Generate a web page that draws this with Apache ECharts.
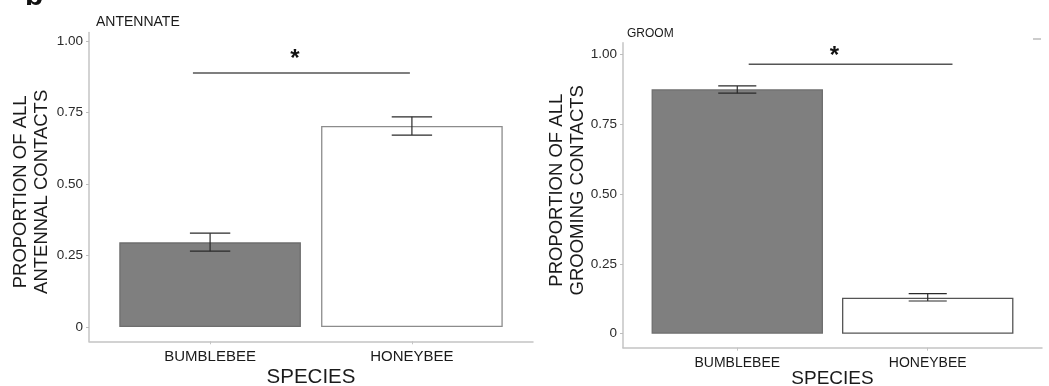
<!DOCTYPE html>
<html>
<head>
<meta charset="utf-8">
<script src="https://cdn.jsdelivr.net/npm/echarts@6/dist/echarts.min.js"></script>
<style>html,body{margin:0;padding:0;background:#fff}#c{width:1049px;height:386px}</style>
</head>
<body>
<div id="c"></div>
<script>
// ---- data ----
const categories = ['BUMBLEBEE', 'HONEYBEE'];
const categoryPos = [1, 2];
const antennateMean  = [0.296, 0.703];
const antennateLower = [0.265, 0.671];
const antennateUpper = [0.328, 0.735];
const groomMean  = [0.874, 0.129];
const groomLower = [0.860, 0.117];
const groomUpper = [0.886, 0.143];
const yTicks = [0, 0.25, 0.5, 0.75, 1.0];
const yTickLabels = ['0', '0.25', '0.50', '0.75', '1.00'];
// significance annotations: [xStart, xEnd, y], star [x, y]
const antennateSigLine = [0.915, 1.99, 0.888];
const antennateSigStar = [1.42, 0.951];
const groomSigLine = [1.06, 2.13, 0.963];
const groomSigStar = [1.51, 1.007];

const FONT = "'Liberation Sans', Arial, Helvetica, sans-serif";
const barFills = ['#7f7f7f', '#ffffff'];
const barBordersL = ['#6e6e6e', '#8c8c8c'];
const barBordersR = ['#6e6e6e', '#555555'];

const chart = echarts.init(document.getElementById('c'), null, {renderer: 'canvas'});

function barData(means, borders) {
  return means.map((v, i) => ({
    value: [categoryPos[i], v],
    itemStyle: {color: barFills[i], borderColor: borders[i], borderWidth: 1.3}
  }));
}
function errData(lo, hi) {
  return lo.map((l, i) => [categoryPos[i], l, hi[i]]);
}
function errRender(params, api) {
  const x = api.value(0), lo = api.value(1), hi = api.value(2);
  const w = 0.1;
  const top = api.coord([x, hi]), bot = api.coord([x, lo]);
  const tl = api.coord([x - w, hi]), tr = api.coord([x + w, hi]);
  const bl = api.coord([x - w, lo]), br = api.coord([x + w, lo]);
  const st = {stroke: '#2a2a2a', lineWidth: 1.2};
  return {type: 'group', children: [
    {type: 'line', shape: {x1: top[0], y1: top[1], x2: bot[0], y2: bot[1]}, style: st},
    {type: 'line', shape: {x1: tl[0], y1: tl[1], x2: tr[0], y2: tr[1]}, style: st},
    {type: 'line', shape: {x1: bl[0], y1: bl[1], x2: br[0], y2: br[1]}, style: st}
  ]};
}
function sigRender(params, api) {
  const x1 = api.value(0), x2 = api.value(1), y = api.value(2);
  const sx = api.value(3), sy = api.value(4);
  const a = api.coord([x1, y]), b = api.coord([x2, y]);
  const s = api.coord([sx, sy]);
  return {type: 'group', children: [
    {type: 'line', shape: {x1: a[0], y1: a[1], x2: b[0], y2: b[1]}, style: {stroke: '#555', lineWidth: 1.5}},
    {type: 'text', x: s[0], y: s[1] + 4.5, style: {text: '*', font: 'bold 24px ' + FONT, fill: '#111', align: 'center', verticalAlign: 'middle'}}
  ]};
}

function xAxisCfg(gridIndex, labelSize, nameSize, nameGap) {
  return {
    type: 'value', gridIndex, min: 0.4, max: 2.6,
    name: 'SPECIES', nameLocation: 'middle', nameGap, nameMoveOverlap: false,
    nameTextStyle: {fontFamily: FONT, fontSize: nameSize, color: '#1a1a1a'},
    axisLine: {show: true, onZero: false, lineStyle: {color: '#c4c4c4', width: 1.5}},
    axisTick: {show: true, length: 3, customValues: categoryPos, lineStyle: {color: '#c4c4c4'}},
    axisLabel: {customValues: categoryPos, margin: 8, fontFamily: FONT, fontSize: labelSize, color: '#1a1a1a',
      formatter: v => categories[categoryPos.indexOf(Math.round(v))] || ''},
    splitLine: {show: false}
  };
}
function yAxisCfg(gridIndex, max, name, nameSize, nameGap, namePadding) {
  return {
    type: 'value', gridIndex, min: -0.05, max,
    name, nameLocation: 'middle', nameRotate: 90, nameGap, nameMoveOverlap: false,
    nameTextStyle: {fontFamily: FONT, fontSize: nameSize, color: '#1a1a1a', lineHeight: 21, padding: namePadding},
    axisLine: {show: true, onZero: false, lineStyle: {color: '#c4c4c4', width: 1.5}},
    axisTick: {show: true, length: 3, customValues: yTicks, lineStyle: {color: '#bdbdbd'}},
    axisLabel: {customValues: yTicks, margin: 6, fontFamily: FONT, fontSize: 13.5, color: '#2a2a2a',
      formatter: v => { const i = yTicks.findIndex(t => Math.abs(t - v) < 1e-6); return i >= 0 ? yTickLabels[i] : ''; }},
    splitLine: {show: false}
  };
}

chart.setOption({
  animation: false,
  backgroundColor: '#ffffff',
  title: [
    {text: 'ANTENNATE', left: 91, top: 10, textStyle: {fontFamily: FONT, fontSize: 14, fontWeight: 'normal', color: '#1a1a1a'}},
    {text: 'GROOM', left: 622, top: 23, textStyle: {fontFamily: FONT, fontSize: 12, fontWeight: 'normal', color: '#1a1a1a'}}
  ],
  grid: [
    {left: 89, right: 516, top: 32.4, bottom: 44.7, outerBoundsMode: 'none', containLabel: false},
    {left: 623, right: 7, top: 42.8, bottom: 38.3, outerBoundsMode: 'none', containLabel: false}
  ],
  xAxis: [xAxisCfg(0, 15, 20.5, 26), xAxisCfg(1, 14, 19, 21.5)],
  yAxis: [
    yAxisCfg(0, 1.03, 'PROPORTION OF ALL\nANTENNAL CONTACTS', 18.5, 37, [0, 10, 0, 0]),
    yAxisCfg(1, 1.04, 'PROPORTION OF ALL\nGROOMING CONTACTS', 18.5, 35, [0, 0, 0, 10])
  ],
  series: [
    {type: 'bar', xAxisIndex: 0, yAxisIndex: 0, barWidth: '90%', data: barData(antennateMean, barBordersL)},
    {type: 'bar', xAxisIndex: 1, yAxisIndex: 1, barWidth: '90%', data: barData(groomMean, barBordersR)},
    {type: 'custom', xAxisIndex: 0, yAxisIndex: 0, renderItem: errRender, data: errData(antennateLower, antennateUpper), z: 5},
    {type: 'custom', xAxisIndex: 1, yAxisIndex: 1, renderItem: errRender, data: errData(groomLower, groomUpper), z: 5},
    {type: 'custom', xAxisIndex: 0, yAxisIndex: 0, renderItem: sigRender, data: [antennateSigLine.concat(antennateSigStar)], z: 5},
    {type: 'custom', xAxisIndex: 1, yAxisIndex: 1, renderItem: sigRender, data: [groomSigLine.concat(groomSigStar)], z: 5}
  ],
  graphic: [
    {type: 'text', left: 25, top: -18, style: {text: 'b', font: 'bold 30px ' + FONT, fill: '#111'}},
    {type: 'line', shape: {x1: 1033, y1: 39, x2: 1041, y2: 39}, style: {stroke: '#bbbbbb', lineWidth: 1.5}}
  ]
});
</script>
</body>
</html>
